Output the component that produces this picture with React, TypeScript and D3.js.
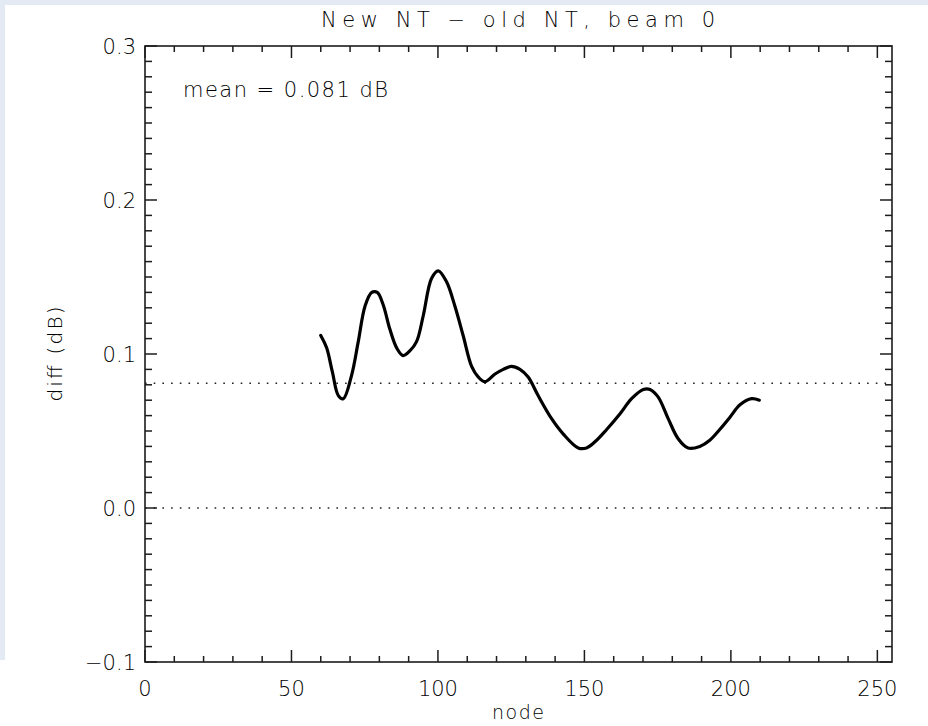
import React from "react";
import * as d3 from "d3";

const nodes = [60, 62, 64, 66, 67.7, 70.5, 72.8, 75.1, 77.4, 79.3, 81.3, 83.6, 85.9, 88.1, 90.4, 92.7, 95, 97.8, 100.1, 102.9, 105.8, 108.6, 111.5, 113.8, 116, 119.5, 122.3, 125.1, 128, 130.8, 134.2, 138.8, 142.8, 147.9, 150.7, 153.6, 157.6, 162.1, 166.1, 170.1, 172.4, 175.2, 178.6, 182, 185.4, 189.4, 192.8, 196.2, 199.7, 203.1, 207.1, 209.7];
const diffs = [0.112, 0.104, 0.088, 0.073, 0.071, 0.086, 0.108, 0.131, 0.140, 0.140, 0.132, 0.116, 0.104, 0.099, 0.102, 0.108, 0.125, 0.149, 0.154, 0.147, 0.131, 0.112, 0.092, 0.085, 0.082, 0.087, 0.090, 0.092, 0.090, 0.085, 0.073, 0.058, 0.048, 0.039, 0.039, 0.043, 0.051, 0.061, 0.071, 0.077, 0.077, 0.072, 0.058, 0.045, 0.039, 0.040, 0.044, 0.051, 0.059, 0.067, 0.071, 0.070];
const meanValue = 0.081;
const xMajorTicks = [0, 50, 100, 150, 200, 250];
const yMajorTicks = [-0.1, 0.0, 0.1, 0.2, 0.3];
const titleText = "New NT \u2212 old NT, beam 0";
const xLabel = "node";
const yLabel = "diff (dB)";
const meanLabel = "mean = 0.081 dB";

const W = 928;
const H = 726;
const L = 145, R = 892, T = 46, B = 662;
const FONT = "'DejaVu Sans', 'Liberation Sans', sans-serif";
const INK = "#1c1c1c";
const TEXT = "#000000";

export default function App() {
  const x = d3.scaleLinear().domain([0, 255]).range([L, R]);
  const y = d3.scaleLinear().domain([-0.1, 0.3]).range([B, T]);
  const xMinor = d3.range(0, 256, 10);
  const yMinor = d3.range(-10, 31).map((i) => i / 100);
  const pts = nodes.map((n, i) => [n, diffs[i]] as [number, number]);
  const line = d3
    .line<[number, number]>()
    .x((d) => x(d[0]))
    .y((d) => y(d[1]))
    .curve(d3.curveCatmullRom.alpha(0.5));
  const fmtY = (v: number) => (v < 0 ? "\u2212" : "") + Math.abs(v).toFixed(1);

  return (
    <svg width={W} height={H} style={{ position: "absolute", left: 0, top: 0, display: "block" }} fontFamily={FONT} fontWeight={200}>
      <rect x={0} y={0} width={W} height={H} fill="#ffffff" />
      <rect x={0} y={0} width={W} height={5} fill="#e4eaf4" />
      <rect x={0} y={0} width={5} height={660} fill="#e4eaf4" />

      {/* dotted reference lines */}
      <line x1={L} x2={R} y1={y(meanValue)} y2={y(meanValue)} stroke="#222" strokeWidth={1.6} strokeDasharray="1.6 7.1" />
      <line x1={L} x2={R} y1={y(0)} y2={y(0)} stroke="#222" strokeWidth={1.6} strokeDasharray="1.6 7.1" />

      {/* curve */}
      <path d={line(pts) || ""} fill="none" stroke="#000" strokeWidth={3.2} strokeLinejoin="round" strokeLinecap="round" />

      {/* frame */}
      <rect x={L} y={T} width={R - L} height={B - T} fill="none" stroke={INK} strokeWidth={1.6} />

      {/* x ticks */}
      {xMinor.map((v) => {
        const major = v % 50 === 0;
        const len = major ? 12 : 6;
        return (
          <g key={"xt" + v}>
            <line x1={x(v)} x2={x(v)} y1={B} y2={B - len} stroke={INK} strokeWidth={1.5} />
            <line x1={x(v)} x2={x(v)} y1={T} y2={T + len} stroke={INK} strokeWidth={1.5} />
          </g>
        );
      })}
      {/* y ticks */}
      {yMinor.map((v, i) => {
        const major = Math.round(v * 100) % 10 === 0;
        const len = major ? 12 : 7;
        return (
          <g key={"yt" + i}>
            <line x1={L} x2={L + len} y1={y(v)} y2={y(v)} stroke={INK} strokeWidth={1.5} />
            <line x1={R} x2={R - len} y1={y(v)} y2={y(v)} stroke={INK} strokeWidth={1.5} />
          </g>
        );
      })}

      {/* tick labels */}
      {xMajorTicks.map((v) => (
        <text key={"xl" + v} x={x(v)} y={696} textAnchor="middle" fontSize={21} fill={TEXT}>
          {v}
        </text>
      ))}
      {yMajorTicks.map((v) => (
        <text key={"yl" + v} x={136} y={y(v) + 7.5} textAnchor="end" fontSize={21} fill={TEXT}>
          {fmtY(v)}
        </text>
      ))}

      {/* title and labels */}
      <text x={321} y={27} fontSize={21} fill={TEXT} textLength={394} lengthAdjust="spacing">
        {titleText}
      </text>
      <text x={183} y={97} fontSize={21} fill={TEXT} textLength={205} lengthAdjust="spacing">
        {meanLabel}
      </text>
      <text x={518} y={719} textAnchor="middle" fontSize={19} fill={TEXT} textLength={52} lengthAdjust="spacing">
        {xLabel}
      </text>
      <text transform={`translate(62, ${(T + B) / 2}) rotate(-90)`} textAnchor="middle" fontSize={20} fill={TEXT} textLength={95} lengthAdjust="spacing">
        {yLabel}
      </text>
    </svg>
  );
}
